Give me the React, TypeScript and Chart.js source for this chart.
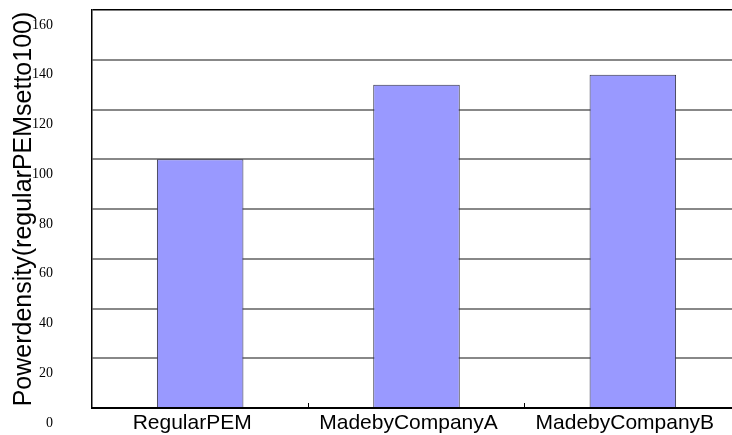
import React, { useEffect, useRef } from "react";
import { Chart, registerables } from "chart.js";

Chart.register(...registerables);

const categories = ["RegularPEM", "MadebyCompanyA", "MadebyCompanyB"];
const powerDensity = [100, 130, 134];
const yTicks = [0, 20, 40, 60, 80, 100, 120, 140, 160];
const yTitle = "Powerdensity(regularPEMsetto100)";

export default function App() {
  const canvasRef = useRef<HTMLCanvasElement | null>(null);

  useEffect(() => {
    const canvas = canvasRef.current;
    if (!canvas) return;
    const chart = new Chart(canvas, {
      type: "bar",
      data: {
        labels: categories,
        datasets: [
          {
            data: powerDensity,
            backgroundColor: "#9999FF",
            borderColor: "#333344",
            borderWidth: 1,
            barPercentage: 0.4,
            categoryPercentage: 1,
          },
        ],
      },
      options: {
        responsive: false,
        animation: false,
        layout: { padding: { top: 10, right: 19, left: 0, bottom: 0 } },
        plugins: {
          legend: { display: false },
          tooltip: { enabled: false },
        },
        scales: {
          x: {
            afterFit: (scale: any) => {
              scale.height = 27;
              scale.paddingLeft = 0;
              scale.paddingRight = 0;
            },
            grid: {
              offset: true,
              drawOnChartArea: false,
              drawTicks: true,
              tickLength: -5,
              color: "#000000",
              lineWidth: 1,
            },
            border: { color: "#000000", width: 2 },
            ticks: {
              color: "#000000",
              padding: 8,
              labelOffset: -8,
              maxRotation: 0,
              autoSkip: false,
              font: { family: "'Liberation Sans', Arial, sans-serif", size: 21 },
            },
          },
          y: {
            min: 0,
            max: 160,
            afterFit: (scale: any) => {
              scale.width = 92;
              scale.paddingTop = 0;
              scale.paddingBottom = 0;
            },
            afterBuildTicks: (scale: any) => {
              scale.ticks = yTicks.map((v) => ({ value: v }));
            },
            grid: {
              drawTicks: false,
              color: (ctx: any) => (ctx.tick && ctx.tick.value === 160 ? "#000000" : "#888888"),
              lineWidth: (ctx: any) => (ctx.tick && ctx.tick.value === 160 ? 1.5 : 2),
            },
            border: { color: "#000000", width: 1.5 },
            ticks: {
              color: "#000000",
              padding: 39,
              labelOffset: 15,
              font: { family: "'Liberation Serif', 'Times New Roman', serif", size: 14 },
            },
            title: {
              display: true,
              text: yTitle,
              color: "#000000",
              padding: { top: 9, bottom: 0 },
              font: { family: "'Liberation Sans', Arial, sans-serif", size: 25 },
            },
          },
        },
      },
    });
    return () => chart.destroy();
  }, []);

  return (
    <div
      style={{
        position: "absolute",
        left: 0,
        top: 0,
        width: 732,
        height: 435,
        overflow: "hidden",
        background: "#ffffff",
      }}
    >
      <canvas
        ref={canvasRef}
        width={760}
        height={435}
        style={{ display: "block", width: 760, height: 435 }}
      />
    </div>
  );
}
